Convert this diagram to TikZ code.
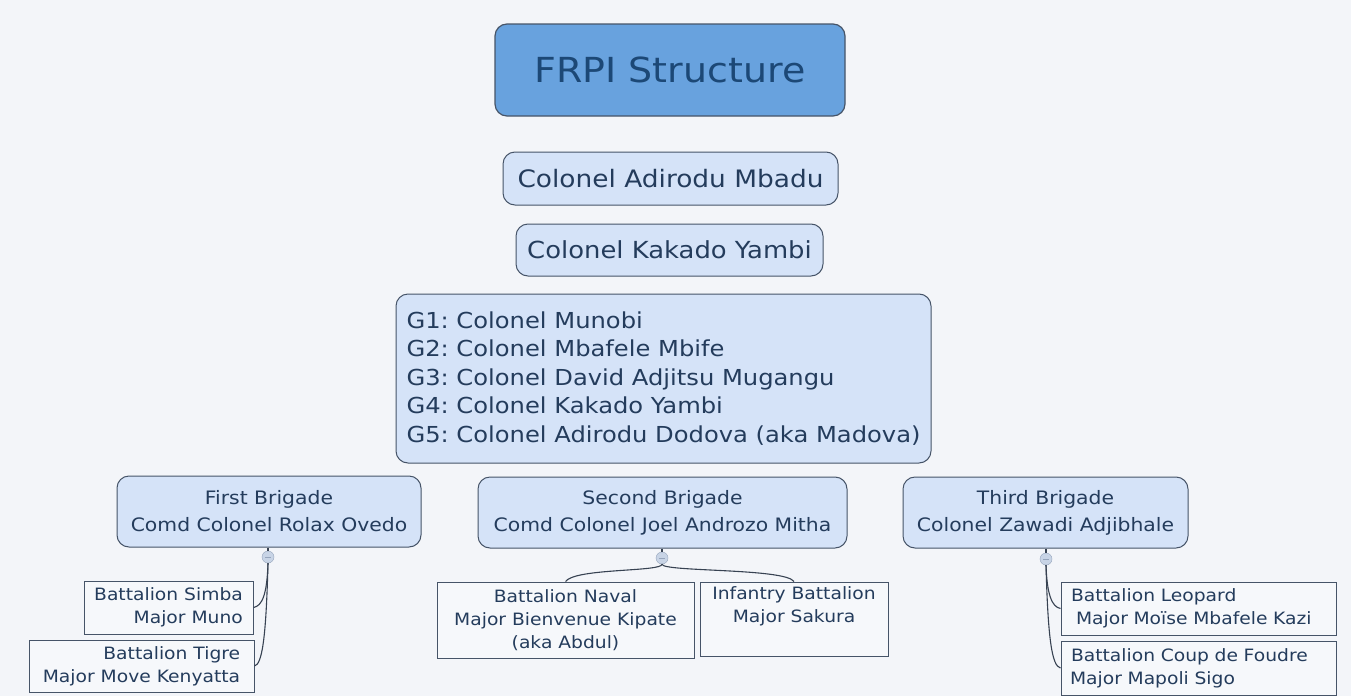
\documentclass[tikz,border=0pt]{standalone}
\usepackage{fontspec}
\setmainfont[FakeStretch=1.1]{DejaVu Sans}
\frenchspacing
\definecolor{bgcol}{RGB}{243,245,249}
\definecolor{titlefill}{RGB}{104,162,222}
\definecolor{titletext}{RGB}{28,72,118}
\definecolor{boxfill}{RGB}{213,227,248}
\definecolor{boxline}{RGB}{70,84,104}
\definecolor{txt}{RGB}{36,60,92}
\definecolor{batfill}{RGB}{246,248,251}
\definecolor{circfill}{RGB}{200,212,230}
\definecolor{circline}{RGB}{150,165,188}
\definecolor{conn}{RGB}{55,66,82}
\tikzset{
  titlebox/.style={draw=boxline, line width=1.2pt, fill=titlefill, rounded corners=12pt, text=titletext, inner sep=0pt},
  rbox/.style={draw=boxline, line width=1pt, fill=boxfill, rounded corners=12pt, text=txt, inner sep=0pt},
  batbox/.style={draw=boxline, line width=1pt, fill=batfill, text=txt, inner ysep=0pt, inner xsep=9pt},
  collapse/.style={circle, draw=circline, fill=circfill, minimum size=12pt, inner sep=0pt},
  conline/.style={draw=conn, line width=1.1pt},
}
\begin{document}
\frenchspacing
\begin{tikzpicture}[x=1pt,y=-1pt]
\fill[bgcol] (0,0) rectangle (1351,696);
\useasboundingbox (0,0) rectangle (1351,696);

\node[titlebox, minimum width=350pt, minimum height=92pt, font=\fontsize{34.5}{40}\selectfont] (title) at (670,70) {FRPI Structure};
\node[rbox, minimum width=335pt, minimum height=53pt, font=\fontsize{24}{28}\selectfont] (mbadu) at (670.5,178.5) {Colonel Adirodu Mbadu};
\node[rbox, minimum width=307pt, minimum height=52pt, font=\fontsize{23.5}{28}\selectfont] (yambi) at (669.5,250) {Colonel Kakado Yambi};
\node[rbox, minimum width=535pt, minimum height=169pt, align=left, font=\fontsize{22}{28.5}\selectfont] (g) at (663.5,378.5)
  {G1: Colonel Munobi\\G2: Colonel Mbafele Mbife\\G3: Colonel David Adjitsu Mugangu\\G4: Colonel Kakado Yambi\\G5: Colonel Adirodu Dodova (aka Madova)};

\node[rbox, minimum width=304pt, minimum height=71pt, align=center, font=\fontsize{18.5}{27}\selectfont] (b1) at (269,511.5) {First Brigade\\Comd Colonel Rolax Ovedo};
\node[rbox, minimum width=369pt, minimum height=71pt, align=center, font=\fontsize{18.5}{27}\selectfont] (b2) at (662.5,512.5) {Second Brigade\\Comd Colonel Joel Androzo Mitha};
\node[rbox, minimum width=285pt, minimum height=71pt, align=center, font=\fontsize{18.5}{27}\selectfont] (b3) at (1045.5,512.5) {Third Brigade\\Colonel Zawadi Adjibhale};

\node[collapse] (c1) at (268,557) {};
\node[collapse] (c2) at (662,558) {};
\node[collapse] (c3) at (1046,559) {};
\foreach \c in {c1,c2,c3} \draw[circline, line width=0.8pt] ([xshift=-3pt]\c.center) -- ([xshift=3pt]\c.center);

\node[batbox, minimum width=169pt, minimum height=53pt, align=right, font=\fontsize{17}{23}\selectfont] (simba) at (168.5,607.5) {Battalion Simba\\Major Muno};
\node[batbox, minimum width=225pt, minimum height=52pt, align=right, font=\fontsize{17}{23}\selectfont] (tigre) at (141.5,666) {Battalion Tigre\\Major Move Kenyatta};
\node[batbox, minimum width=257pt, minimum height=76pt, align=center, font=\fontsize{17}{23}\selectfont] (naval) at (565.5,620) {Battalion Naval\\Major Bienvenue Kipate\\(aka Abdul)};
\node[batbox, minimum width=188pt, minimum height=74pt, align=center, font=\fontsize{17}{23}\selectfont] (inf) at (794,619) {Infantry Battalion\\Major Sakura\\\strut};
\node[batbox, minimum width=275pt, minimum height=53pt, text width=257pt, align=left, font=\fontsize{17}{23}\selectfont] (leo) at (1198.5,608.5) {\hspace*{1pt}Battalion Leopard\\\hspace*{6pt}Major Moïse Mbafele Kazi};
\node[batbox, minimum width=275pt, minimum height=54pt, text width=257pt, align=left, font=\fontsize{17}{23}\selectfont] (coup) at (1198.5,668) {\hspace*{1pt}Battalion Coup de Foudre\\Major Mapoli Sigo};

\draw[conline] (b1.south -| c1) -- (c1.north);
\draw[conline] (b2.south -| c2) -- (c2.north);
\draw[conline] (b3.south -| c3) -- (c3.north);

\draw[conline] (c1.south) .. controls (267,595) and (262,606) .. (simba.east);
\draw[conline] (c1.south) .. controls (266,640) and (262,664) .. (tigre.east);
\draw[conline] (c2.south) .. controls (662,572) and (575,568) .. (naval.north);
\draw[conline] (c2.south) .. controls (662,572) and (785,568) .. (inf.north);
\draw[conline] (c3.south) .. controls (1047,595) and (1052,607) .. (leo.west);
\draw[conline] (c3.south) .. controls (1048,640) and (1052,666) .. (coup.west);
\end{tikzpicture}
\end{document}
